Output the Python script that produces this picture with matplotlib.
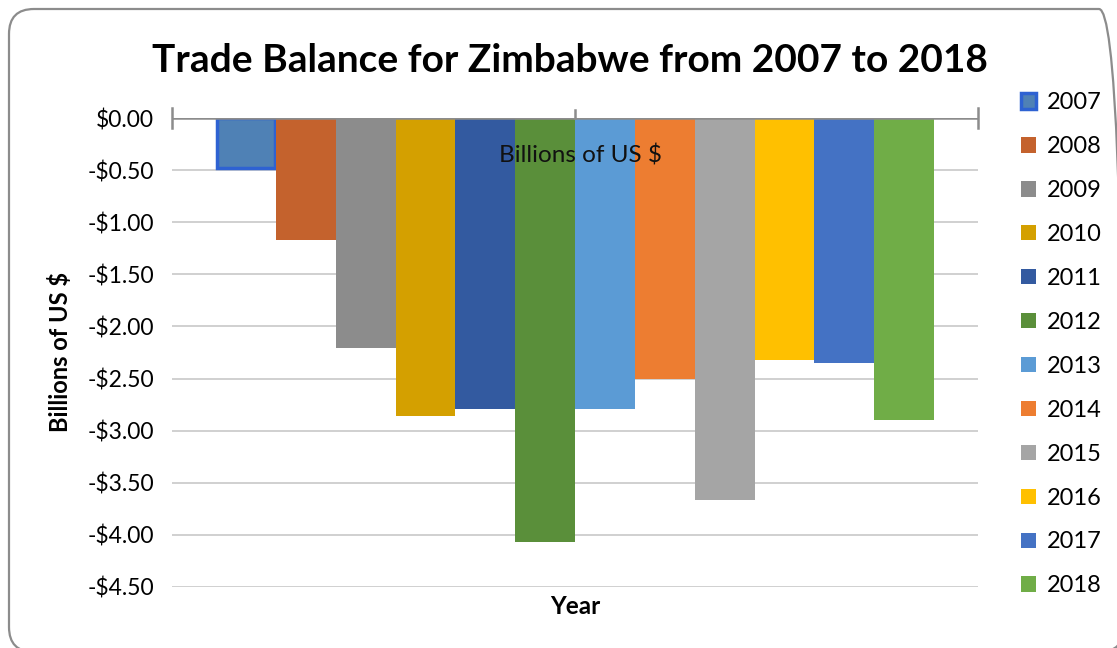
import matplotlib
matplotlib.use("Agg")
import matplotlib.pyplot as plt
from matplotlib.patches import FancyBboxPatch
from matplotlib.transforms import IdentityTransform
import numpy as np

years = ["2007", "2008", "2009", "2010", "2011", "2012",
         "2013", "2014", "2015", "2016", "2017", "2018"]
balance = [-0.48, -1.17, -2.21, -2.86, -2.79, -4.07,
           -2.79, -2.50, -3.67, -2.32, -2.35, -2.90]
colors = ["#4F81B5", "#C4622D", "#8C8C8C", "#D4A000", "#335AA0", "#5A8F3A",
          "#5B9BD5", "#ED7D31", "#A5A5A5", "#FFC000", "#4472C4", "#70AD47"]
yticks = [0.0, -0.5, -1.0, -1.5, -2.0, -2.5, -3.0, -3.5, -4.0, -4.5]
ytick_labels = ["$0.00", "-$0.50", "-$1.00", "-$1.50", "-$2.00", "-$2.50",
                "-$3.00", "-$3.50", "-$4.00", "-$4.50"]

plt.rcParams['font.family'] = ['Lato', 'DejaVu Sans']

W, H = 1117, 648
fig = plt.figure(figsize=(W / 100, H / 100), dpi=100)

# rounded outer border in pixel coordinates (right/bottom edges just off the image)
bx0, by_top, bx1, by_bot = 9, 9, 1124, 652
border = FancyBboxPatch((bx0, H - by_bot), bx1 - bx0, by_bot - by_top,
                        boxstyle="round,pad=0,rounding_size=25",
                        transform=IdentityTransform(), fill=False,
                        edgecolor="#8C8C8C", linewidth=1.6, zorder=0)
fig.patches.append(border)

ax = fig.add_axes([172 / W, 1 - 587 / H, (978 - 172) / W, (587 - 118) / H])

n = len(years)
bw = (933 - 215) / 806 / n
x0 = -bw * n / 2
for i, (yr, v, c) in enumerate(zip(years, balance, colors)):
    if i == 0:
        ax.bar(x0 + bw * (i + 0.5), v, width=bw * 0.97, color=c,
               edgecolor="#2E62D2", linewidth=2.5, label=yr, zorder=3)
    else:
        ax.bar(x0 + bw * (i + 0.5), v, width=bw, color=c, label=yr,
               linewidth=0, zorder=3)

ax.set_xlim(-0.5, 0.5)
ax.set_ylim(-4.5, 0)
ax.set_yticks(yticks)
ax.set_yticklabels(ytick_labels, fontsize=16.5)
ax.tick_params(axis='y', length=0, pad=13)
ax.set_xticks([])
ax.grid(axis='y', color="#C8C8C8", linewidth=1.2, zorder=0)
for s in ["left", "right", "bottom", "top"]:
    ax.spines[s].set_visible(False)

# category axis line at zero with tick marks
ax.axhline(0, color="#8C8C8C", linewidth=1.8, zorder=4)
for xt, (lo, hi) in zip([-0.5, 0.0, 0.5], [(-0.095, 0.095), (0, 0.072), (-0.095, 0.095)]):
    ax.plot([xt, xt], [lo, hi], color="#8C8C8C",
            linewidth=1.8, clip_on=False, zorder=4)

ax.text(0.007, -0.36, "Billions of US $", ha="center", va="center",
        fontsize=17.5, color="#111111", zorder=5)

fig.text(570 / W, 1 - 60 / H, "Trade Balance for Zimbabwe from 2007 to 2018",
         ha="center", va="center", fontsize=28, fontweight="bold")
fig.text(60 / W, 1 - 352 / H, "Billions of US $", rotation=90,
         ha="center", va="center", fontsize=17, fontweight="bold")
fig.text(575 / W, 1 - 606 / H, "Year", ha="center", va="center",
         fontsize=17.5, fontweight="bold")

handles, labels = ax.get_legend_handles_labels()
fig.legend(handles, labels, loc="upper left",
           bbox_to_anchor=(1012 / W, 1 - 83 / H), frameon=False,
           fontsize=17, handlelength=0.62, handleheight=0.62,
           handletextpad=0.45, labelspacing=0.97, borderaxespad=0)

fig.savefig("out.png", dpi=100)
